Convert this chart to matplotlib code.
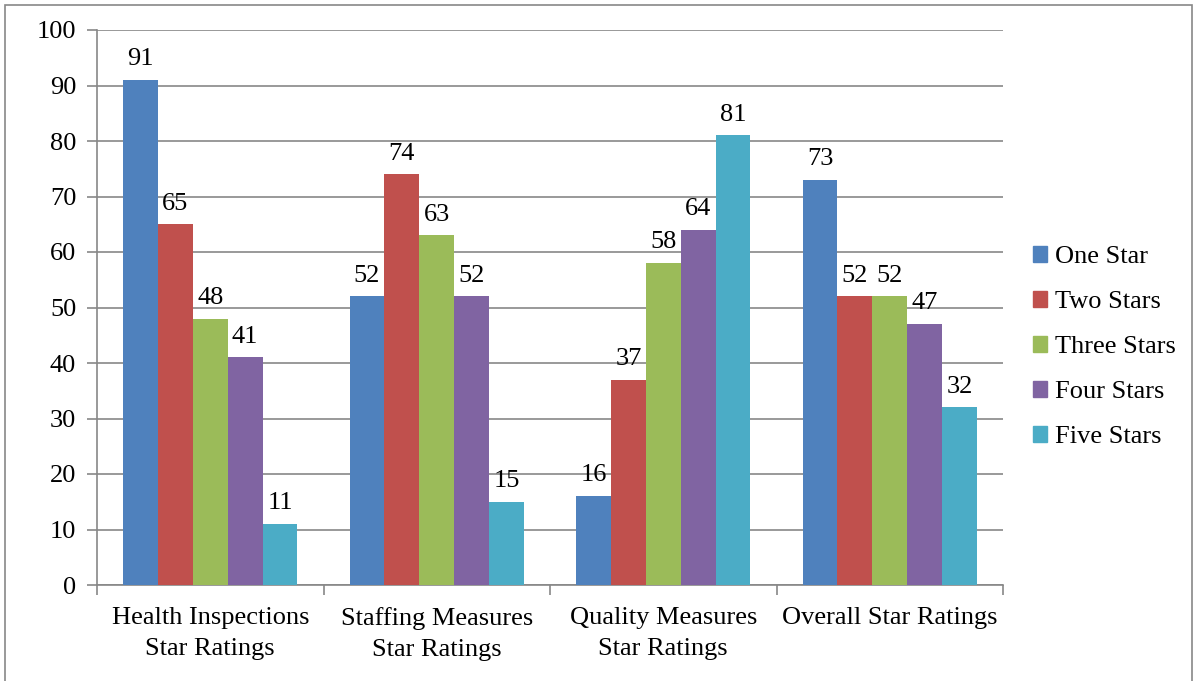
import matplotlib.pyplot as plt
import matplotlib.patches as mpatches
import numpy as np

categories = ["Health Inspections\nStar Ratings", "Staffing Measures\nStar Ratings",
              "Quality Measures\nStar Ratings", "Overall Star Ratings"]
series_names = ["One Star", "Two Stars", "Three Stars", "Four Stars", "Five Stars"]
one_star = [91, 52, 16, 73]
two_stars = [65, 74, 37, 52]
three_stars = [48, 63, 58, 52]
four_stars = [41, 52, 64, 47]
five_stars = [11, 15, 81, 32]
colors = ["#4F81BD", "#C0504D", "#9BBB59", "#8064A2", "#4BACC6"]

plt.rcParams['font.family'] = ['Liberation Serif', 'DejaVu Serif']
fs = 19
gray = "#878787"

fig = plt.figure(figsize=(11.94, 6.81), dpi=100)
ax = fig.add_axes([97 / 1194, 1 - 585 / 681, (1003 - 97) / 1194, (585 - 30) / 681])

# outer frame of the chart area
fig.patches.append(mpatches.Rectangle((5 / 1194, -0.05), (1192 - 5) / 1194, 1.05 - 5 / 681,
                                      transform=fig.transFigure, fill=False,
                                      edgecolor=gray, linewidth=1.2))

all_series = [one_star, two_stars, three_stars, four_stars, five_stars]
n = len(all_series)
width = 1 / (n + 1.5)
x = np.arange(len(categories))

for i, (vals, name, c) in enumerate(zip(all_series, series_names, colors)):
    pos = x + (i - (n - 1) / 2) * width
    bars = ax.bar(pos, vals, width, color=c, label=name, zorder=3)
    for b, v in zip(bars, vals):
        ax.annotate(str(v), (b.get_x() + b.get_width() / 2, v), xytext=(0, 7),
                    textcoords="offset points", ha="center", va="bottom", fontsize=fs)

ax.set_xlim(-0.5, len(categories) - 0.5)
ax.set_ylim(0, 100)
ax.set_yticks(range(0, 101, 10))
ax.yaxis.grid(True, color=gray, linewidth=1.2, zorder=0)
ax.set_axisbelow(True)

ax.set_xticks(x)
ax.set_xticklabels(categories, fontsize=fs, linespacing=1.5)
ax.set_xticks(np.arange(-0.5, len(categories), 1), minor=True)
ax.tick_params(axis="x", which="major", length=0, pad=16)
ax.tick_params(axis="x", which="minor", length=7, width=1.2, color=gray)
ax.tick_params(axis="y", labelsize=fs, length=7, width=1.2, color=gray, pad=8)

for s in ["top", "right"]:
    ax.spines[s].set_visible(False)
for s in ["left", "bottom"]:
    ax.spines[s].set_color(gray)
    ax.spines[s].set_linewidth(1.2)

handles = [mpatches.Patch(color=c, label=nm) for c, nm in zip(colors, series_names)]
fig.legend(handles=handles, loc="center left", bbox_to_anchor=(1009 / 1194, 1 - 347 / 681),
           frameon=False, fontsize=fs, handlelength=0.55, handleheight=0.55,
           handletextpad=0.3, labelspacing=0.86)

fig.savefig("out.png", dpi=100)
